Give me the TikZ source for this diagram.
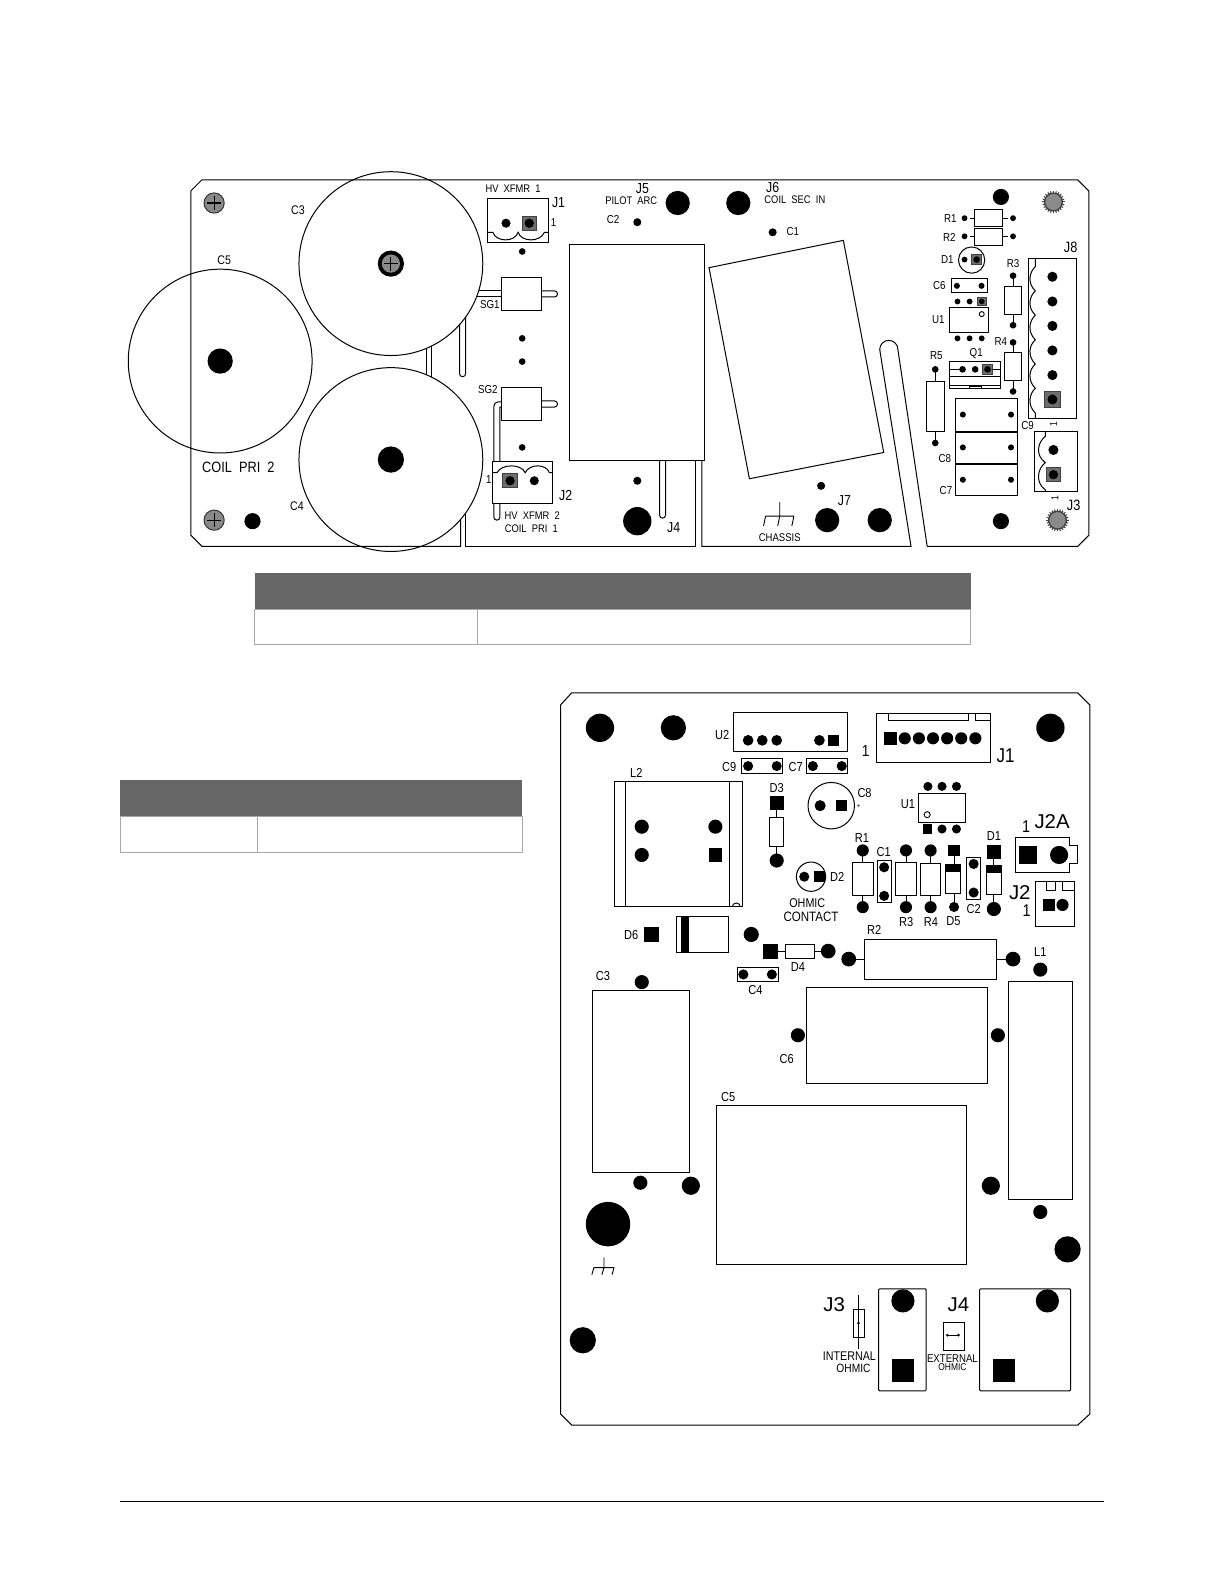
\documentclass[tikz,border=0pt]{standalone}
\usepackage{fontspec}
\setmainfont[FakeStretch=0.85]{Liberation Sans}
\newfontfamily\wide[FakeStretch=1.02]{Liberation Sans}
\newcount\labn
\newcommand\lab[4][11.5]{\global\advance\labn by 1 \node[lab,font=\fontsize{#1}{#1}\selectfont] (T\the\labn) at (#2,#3) {#4};}
\newcommand\rlab[3]{\global\advance\labn by 1 \node[lab,rotate=90,font=\fontsize{10}{10}\selectfont] (T\the\labn) at (#1,#2) {#3};}
\newcommand\hole[3]{\fill (#1,#2) circle (#3);}
\newcommand\sq[3]{\fill ({#1-#3/2},{#2-#3/2}) rectangle ++(#3,#3);}
\newcommand\gsq[3]{\filldraw[fill=gsqfill,draw=black!75,line width=1pt] ({#1-#3/2},{#2-#3/2}) rectangle ++(#3,#3); \fill (#1,#2) circle ({#3*0.33});}
\newcommand\screw[2]{\filldraw[fill=scrfill,draw=black!80,line width=1pt] (#1,#2) circle (10); \draw[line width=1.2pt] (#1-7,#2) -- (#1+7,#2) (#1,#2-7) -- (#1,#2+7);}
\newcommand\serr[2]{\fill[black!75] (#1,#2) circle (9.5); \foreach \a in {0,15,...,345} {\draw[line width=1pt,black!75] ({#1+9*cos(\a)},{#2+9*sin(\a)}) -- ({#1+11*cos(\a)},{#2+11*sin(\a)});} \fill[scrfill] (#1,#2) circle (8);}
\newcommand\gnd[3]{\draw[thin1] (#1,#2) -- (#1,#2+#3) (#1-#3,#2+#3) -- (#1+#3,#2+#3) (#1-#3,#2+#3) -- (#1-#3-2,#2+#3*1.7) (#1,#2+#3) -- (#1-2,#2+#3*1.7) (#1+#3,#2+#3) -- (#1+#3-2,#2+#3*1.7);}
\definecolor{gsqfill}{HTML}{6E6E6E}
\definecolor{scrfill}{HTML}{8A8A8A}
\definecolor{barfill}{HTML}{666666}
\definecolor{cellline}{HTML}{A8A8A8}
\tikzset{
  lab/.style={inner sep=0pt,outer sep=0pt,text=black,anchor=center},
  ln/.style={draw=black,line width=1pt},
  thin1/.style={draw=black,line width=0.9pt},
  bar/.style={fill=barfill,draw=none},
  cell/.style={draw=cellline,line width=0.8pt},
}
\begin{document}
\begin{tikzpicture}[x=1.01pt,y=-1.01pt,line join=miter]
\useasboundingbox (0pt,0pt) rectangle (1224pt,-1584pt);
\fill[white] (0pt,0pt) rectangle (1224pt,-1584pt);

%%%% upper board outline
\draw[ln] (456,515) -- (456,541) -- (200,541) -- (189,530) -- (189,189) -- (200,178) -- (1067,178) -- (1078,189) -- (1078,530) -- (1067,541) -- (918,541);
\draw[ln] (461,509) -- (461,541) -- (689,541) -- (689,456);
\draw[ln] (695,456) -- (695,541) -- (902,541) -- (871,346) arc[start angle=180,end angle=360,x radius=9,y radius=9] -- (918,541);
% slots
\draw[ln] (422,345) -- (422,371) (427,343) -- (427,373);
\draw[ln] (455,321) -- (455,370) arc[start angle=180,end angle=0,x radius=3,y radius=3] -- (461,314);
\draw[ln] (653,456) -- (653,510) arc[start angle=180,end angle=0,x radius=3,y radius=3] -- (659,456);
\draw[ln] (489,499) -- (489,402) arc[start angle=180,end angle=90,x radius=4,y radius=-4] -- (497,398) (495,457) -- (495,403) -- (497,403);
\draw[ln] (489,499) -- (489,512) arc[start angle=180,end angle=0,x radius=3,y radius=3] -- (495,499);
% caps
\draw[ln] (387,261) circle (91) (218,357.5) circle (91) (387,455) circle (91);
\fill (387,261) circle (13); \fill[scrfill] (387,261) circle (9); \draw[line width=1.2pt] (380,261) -- (394,261) (387,254) -- (387,268);
\hole{218}{357.5}{12.5} \hole{387}{455}{13}
\screw{212}{201} \screw{212}{515} \hole{250}{516}{8}
\lab[12.5]{295}{208}{C3} \lab[12.5]{222}{258}{C5} \lab[12.5]{294}{501}{C4}
\lab[15]{236}{463}{COIL\ \ PRI\ \ 2}
% J1
\draw[ln] (483,197) rectangle (543,240);
\draw[ln] (483,230) -- (488,230) .. controls (491,240) and (510,240) .. (513,230) .. controls (516,240) and (535,240) .. (539,230) -- (543,230);
\hole{501}{221}{4.5} \gsq{524}{221}{14}
\lab[11]{508}{187}{HV\ \ XFMR\ \ 1} \lab[14.5]{553}{201}{J1} \lab[11.5]{548}{220}{1}
% SG1 / SG2
\draw[ln,fill=white] (497,275) rectangle (536,307);
\draw[ln,fill=white] (497,384) rectangle (536,416);
\draw[ln] (474,288) -- (497,288) (472,294) -- (497,294);
\draw[ln] (536,288) -- (549,288) arc[start angle=90,end angle=-90,x radius=3,y radius=-3] -- (536,294);
\draw[ln] (536,397) -- (549,397) arc[start angle=90,end angle=-90,x radius=3,y radius=-3] -- (536,403);
\lab{485}{302}{SG1} \lab{483}{386}{SG2}
\hole{517}{249}{3.3} \hole{517}{335}{3.3} \hole{517}{358}{3.3} \hole{517}{443}{3.3}
% J2
\draw[ln,fill=white] (488,457) rectangle (547,499);
\draw[ln] (488,468) -- (492,468) .. controls (497,459) and (516,459) .. (520,468) .. controls (524,459) and (541,459) .. (544,468) -- (547,468);
\gsq{505}{476}{14} \hole{529}{476}{4.5}
\lab[11.5]{484}{475}{1} \lab[14.5]{560}{491}{J2}
\lab[11]{527}{511}{HV\ \ XFMR\ \ 2} \lab[11]{526}{523}{COIL\ \ PRI\ \ 1}
% Middle
\draw[ln] (564,242) rectangle (698,456);
\draw[ln] (702,265) -- (835,238) -- (875,448) -- (742,474) -- cycle;
\hole{671}{201}{12} \hole{731}{201}{12}
\lab[14.5]{636}{187}{J5} \lab[11]{625}{199}{PILOT\ \ ARC} \lab[14.5]{765}{186}{J6} \lab[11]{787}{198}{COIL\ \ SEC\ \ IN}
\lab{607}{217}{C2} \hole{631}{220}{4} \hole{765}{230}{4} \lab{785}{229}{C1}
\hole{631}{476}{4} \hole{631}{516}{14} \lab[14.5]{667}{522}{J4}
\hole{813}{481}{4} \hole{819}{515}{12} \hole{871}{515}{12} \lab[14.5]{836}{496}{J7}
\gnd{772}{497}{14}
\lab[11.2]{772}{532}{CHASSIS}
% Right
\hole{991}{195}{8} \serr{1043}{200} \serr{1047}{515} \hole{991}{516}{8}
\draw[ln] (965,207) rectangle (992.5,224) (965,226.7) rectangle (992.5,243);
\draw[thin1] (960,216) -- (965,216) (992.5,216) -- (998,216) (960,234) -- (965,234) (992.5,234) -- (998,234);
\foreach \x in {955,1003} {\hole{\x}{216}{2.9} \hole{\x}{234}{2.9}}
\lab{941}{216}{R1} \lab{940}{235}{R2}
\draw[ln] (962,257.5) circle (13); \hole{955}{257}{2.9} \gsq{967}{257}{10}
\lab{938}{257}{D1}
\lab{1003}{261}{R3} \hole{1003}{273}{3.3} \draw[ln] (995,284) rectangle (1011.5,311.5); \hole{1003}{322}{3.3}
\draw[thin1] (1003,273) -- (1003,284) (1003,311.5) -- (1003,322);
\draw[ln] (942.5,276) rectangle (978,289.6); \hole{947.4}{283}{3} \hole{971.8}{283}{3} \lab{930}{283}{C6}
\hole{948}{298.5}{2.9} \hole{960}{298.5}{2.9} \gsq{972}{298.5}{8.5}
\draw[ln] (940,304.5) rectangle (979,329); \draw[thin1] (972,311) circle (2.5);
\hole{948}{335}{2.9} \hole{960}{335}{2.9} \hole{972}{335}{2.9} \lab{929}{316.5}{U1}
\lab{991}{338}{R4} \hole{1003}{339}{3.3} \draw[ln] (995,349) rectangle (1011.5,377); \hole{1003}{387.6}{3.3}
\draw[thin1] (1003,339) -- (1003,349) (1003,377) -- (1003,387.6);
\lab{927}{352.5}{R5} \hole{926}{365.7}{3.3} \draw[ln] (917.5,378) rectangle (935,427); \hole{926}{438.6}{3.3}
\draw[thin1] (926,366) -- (926,378) (926,427) -- (926,438);
\lab{966.5}{350}{Q1}
\draw[ln] (940,358) rectangle (991,385) (940,373) -- (991,373) (940,381.6) -- (991,381.6) (960,385) -- (960,382.5) -- (972,382.5) -- (972,385);
\draw[thin1] (940,365.7) -- (950,365.7) (982,365.7) -- (991,365.7);
\hole{953}{365.7}{3.3} \hole{965.5}{365.7}{3.3} \gsq{977.7}{365.7}{10}
\draw[ln] (946,395) rectangle (1007.6,491);
\draw[line width=1.9pt] (946,427.3) -- (1007.6,427.3) (946,459.3) -- (1007.6,459.3);
\foreach \y in {410.5,443,475} {\hole{953.3}{\y}{3} \hole{1001}{\y}{3}}
\lab{1017.5}{421}{C9} \lab{935.5}{454}{C8} \lab{936.6}{486}{C7}
\draw[ln] (1018,256) rectangle (1066,414);
\draw[ln] (1025,256) -- (1025,264) .. controls (1019,270) and (1017,280) .. (1025,288) .. controls (1019,294) and (1017,304) .. (1025,312) .. controls (1019,318) and (1017,328) .. (1025,336.5) .. controls (1019,342) and (1017,352) .. (1025,360.5) .. controls (1019,366) and (1017,376) .. (1025,384.5) .. controls (1019,390) and (1017,401) .. (1025,409) -- (1025,414);
\foreach \y in {274,298.5,322.7,347,371.4} {\hole{1042}{\y}{5}}
\gsq{1042}{395.5}{15} \rlab{1043}{420}{1}
\lab[15]{1060}{245}{J8}
\draw[ln] (1024,427.6) rectangle (1067,487);
\draw[ln] (1035,427.6) -- (1035,432) .. controls (1027,438) and (1025,451) .. (1035,458) .. controls (1027,464) and (1025,478) .. (1035,485) -- (1035,487);
\hole{1043}{445.5}{5} \gsq{1043}{470}{14} \rlab{1044.5}{493}{1}
\lab[15]{1063}{500}{J3}

%%%% Table 1
\fill[bar] (252,567) rectangle (961,603);
\draw[cell] (252,603) rectangle (961,638) (473,603) -- (473,638);
%%%% Table 2
\fill[bar] (119,772) rectangle (517,808);
\draw[cell] (119,808) rectangle (517,844) (255,808) -- (255,844);
%%%% Footer rule
\draw[line width=1pt] (119,1487) -- (1093,1487);

%%%% lower board outline
\draw[ln] (566,686) -- (1067,686) -- (1079,698) -- (1079,1400) -- (1067,1411) -- (566,1411) -- (555,1400) -- (555,698) -- cycle;
\hole{594}{720.6}{14} \hole{666.7}{720.6}{12.5} \hole{1040}{720.6}{14}
% U2
\draw[ln] (726.4,705.5) rectangle (839.2,744); \lab[13]{715}{728}{U2}
\foreach \x in {740.7,754.7,769,811.3} {\hole{\x}{733}{5.3}} \sq{825}{733}{11}
% J1
\draw[ln] (868,706.4) rectangle (980.4,754.5);
\draw[ln] (879.8,706.4) -- (879.8,713.4) -- (958.6,713.4) -- (958.6,706.4) (965.4,706.4) -- (965.4,713.4) -- (980.4,713.4);
\sq{882}{731}{13} \foreach \x in {895.8,909.8,923.8,937.8,951.7,965.7} {\hole{\x}{731}{6}}
\lab[16]{857}{744}{1} \lab[20]{995.7}{748}{J1}
% C9 C7
\draw[ln] (734.6,751) rectangle (775,765.7); \hole{740.7}{758.5}{5} \hole{769}{758.5}{5} \lab[13]{722}{759.5}{C9}
\draw[ln] (798.7,751) rectangle (839.2,765.7); \hole{804.8}{758.5}{5} \hole{833.4}{758.5}{5} \lab[13]{787.8}{759.5}{C7}
% L2
\draw[ln] (608,774) rectangle (735.2,898) (619.7,774) -- (619.7,898) (722.6,774) -- (722.6,898);
\hole{635.4}{818.5}{7} \hole{708.3}{818.5}{7} \hole{635.4}{846.5}{7} \sq{708.3}{846.5}{13}
\draw[thin1] (725,898) arc[start angle=180,end angle=360,x radius=4,y radius=4];
\lab[13]{630}{765.5}{L2}
% D3
\lab[13]{769}{780}{D3} \sq{769}{795.4}{14} \draw[ln] (762,809) rectangle (776,838); \hole{769}{852}{7}
\draw[thin1] (769,802) -- (769,809) (769,838) -- (769,846);
% C8
\draw[ln] (823,797.7) circle (23); \hole{812}{797.7}{5.5} \sq{833.4}{797.7}{11} \lab[13]{856}{785}{C8} \lab[7]{850}{798}{+}
% U1
\draw[ln] (909.8,785.5) rectangle (955.5,814); \draw[thin1] (918,806.6) circle (3);
\foreach \x in {918.7,932.7,947} {\hole{\x}{778.6}{4.5}} \sq{918.7}{820.8}{9} \hole{932.7}{820.8}{4.5} \hole{947}{820.8}{4.5}
\lab[13]{899}{796}{U1}
% J2A
\lab[20]{1041.7}{813}{\wide J2A} \lab[17]{1016}{818}{1}
\draw[ln] (1005.6,829) -- (1058.8,829) -- (1058.8,837.3) -- (1067.3,837.3) -- (1067.3,855.4) -- (1058.8,855.4) -- (1058.8,863.6) -- (1005.6,863.6) -- cycle;
\sq{1018}{846.5}{18} \hole{1048.6}{846.5}{9}
% J2
\lab[20]{1009.7}{883.4}{\wide J2} \lab[17]{1016.5}{901.5}{1}
\draw[ln] (1025.4,872.5) rectangle (1064.3,917);
\draw[ln] (1036.6,872.5) -- (1036.6,881.5) -- (1045,881.5) -- (1045,872.5) (1052.3,872.5) -- (1052.3,881.5) -- (1064.3,881.5);
\sq{1038.3}{896}{12} \hole{1052}{896}{6}
% R1 C1 R3 R4 D5 C2 D1
\lab[13]{853.5}{829.3}{R1} \hole{854.2}{842}{6} \draw[ln] (844.4,853.7) rectangle (864.5,886.3); \hole{854.2}{898.2}{6}
\draw[thin1] (854.2,846) -- (854.2,854) (854.2,886) -- (854.2,893);
\lab[13]{875}{843.5}{C1} \draw[ln] (868.6,851.8) rectangle (883,893.3); \hole{875.4}{858.7}{5} \hole{875.4}{887}{5}
\hole{897}{842}{6} \draw[ln] (887,853.7) rectangle (907,886.3); \hole{897}{898.2}{6} \lab[13]{897.2}{913}{R3}
\draw[thin1] (897,846) -- (897,854) (897,886) -- (897,893);
\hole{921.4}{842}{6} \draw[ln] (911.5,854.7) rectangle (931.6,886.3); \hole{921.4}{898.2}{6} \lab[13]{921.8}{912.7}{R4}
\draw[thin1] (921.4,846) -- (921.4,855) (921.4,886) -- (921.4,893);
\sq{944.6}{842}{11} \draw[ln] (936.4,855.7) rectangle (951.4,884.4); \fill (936.4,855.7) rectangle (951.4,863); \hole{944.6}{898}{5} \lab[13]{944}{912}{D5}
\draw[thin1] (944.6,846) -- (944.6,856) (944.6,884) -- (944.6,893);
\draw[ln] (957.2,849) rectangle (971.2,890.6); \hole{964}{855.4}{5} \hole{964}{883.7}{5} \lab[13]{964}{900}{C2}
\lab[13]{984}{827.7}{D1} \sq{984}{843.5}{14.5} \draw[ln] (977,857.4) rectangle (991.3,885.7); \fill (977,857.4) rectangle (991.3,864.3); \hole{984}{900}{7}
\draw[thin1] (984,850) -- (984,858) (984,885) -- (984,893);
% D2
\draw[ln] (803,868) circle (14.5); \hole{796.3}{868}{5} \sq{811}{868}{11} \lab[13]{829}{868}{D2}
\lab[12.7]{799.3}{894}{OHMIC} \lab[13.6]{803}{907.5}{CONTACT}
% D6
\lab[13]{625}{926}{D6} \sq{645.2}{925.2}{15.5}
\draw[ln] (669.4,907) rectangle (721,942.7); \fill (674,907) rectangle (681.7,942.7);
\hole{743.8}{925.2}{7.5}
% D4
\sq{763.2}{941.7}{15} \draw[ln] (778,934.8) rectangle (806,948.6); \hole{820}{941.7}{7.3}
\draw[thin1] (770,941.7) -- (778,941.7) (806,941.7) -- (814,941.7);
\lab[13]{790}{957.5}{D4}
% C4
\draw[ln] (729.8,957.5) rectangle (771,971.4); \hole{736}{964.8}{5} \hole{764.2}{964.8}{5} \lab[13]{748}{980.6}{C4}
% R2
\lab[13]{865.5}{921}{R2} \draw[ln] (856.3,930) rectangle (987,970);
\hole{840.3}{949.6}{7.3} \hole{1003}{949.6}{7.3}
\draw[thin1] (846,949.6) -- (856.3,949.6) (987,949.6) -- (997,949.6);
% L1 C3 C6 C5
\lab[13]{1030}{942.7}{L1} \hole{1030}{960}{7}
\draw[ln] (999,972) rectangle (1062,1188);
\lab[13]{597}{966}{C3} \hole{635.4}{972.4}{7}
\draw[ln] (587,981) rectangle (683,1161);
\draw[ln] (799,978) rectangle (978,1073); \lab[13]{779}{1049}{C6}
\hole{790}{1025}{7} \hole{988}{1025}{7}
\draw[ln] (709,1095) rectangle (957,1252); \lab[13]{721}{1086}{C5}
\hole{981}{1174}{9} \hole{1030}{1200}{7} \hole{1057}{1237}{13}
\hole{634}{1171}{7} \hole{684}{1174}{9} \hole{602}{1212}{22} \hole{577}{1327}{13}
\gnd{598}{1245}{10}
% J3 J4
\draw[ln,rounded corners=1pt] (870,1276) rectangle (917,1377); \hole{894}{1288}{11.5} \sq{894}{1357}{22}
\draw[ln,rounded corners=1pt] (970,1276) rectangle (1060,1377); \hole{1037}{1288}{11.5} \sq{994}{1357}{22}
\lab[20]{826}{1292}{\wide J3} \draw[thin1] (850,1282) -- (850,1336) (845,1296) rectangle (856,1324); \hole{850}{1310}{1.5}
\lab[12.6]{841}{1343}{INTERNAL} \lab[12]{845}{1355}{OHMIC}
\lab[20]{949}{1292}{\wide J4} \draw[thin1] (934,1309) rectangle (955,1337) (938,1322) -- (949,1322); \hole{938}{1322}{1.5} \hole{949}{1322}{1.5}
\lab[11.3]{943}{1345}{EXTERNAL} \lab[9.9]{943}{1354}{OHMIC}
\end{tikzpicture}
\end{document}
